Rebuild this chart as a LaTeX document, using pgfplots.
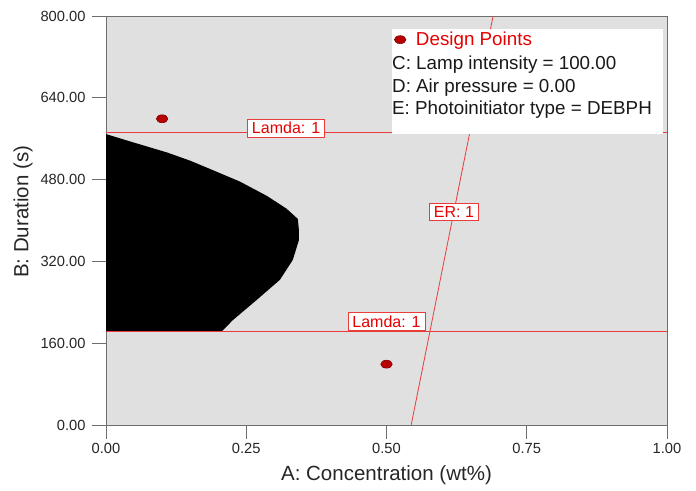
\documentclass[border=0pt]{standalone}
\usepackage{pgfplots}
\pgfplotsset{compat=1.18}
\usepackage{fontspec}
\setmainfont{Liberation Sans}
\definecolor{bggray}{RGB}{224,224,224}
\definecolor{linered}{RGB}{235,60,60}
\definecolor{txtred}{RGB}{230,0,0}
\definecolor{dptred}{RGB}{185,0,0}
\definecolor{axgray}{RGB}{110,110,110}
\begin{document}
\begin{tikzpicture}
\useasboundingbox (0,0) rectangle (696bp,491bp);
\begin{axis}[
  at={(106bp,66bp)}, anchor=south west,
  scale only axis, width=561bp, height=409bp,
  xmin=0, xmax=1, ymin=0, ymax=800,
  xtick={0,0.25,0.5,0.75,1},
  ytick={0,160,320,480,640,800},
  xtick pos=lower, ytick pos=left,
  tick align=outside,
  major tick length=14bp,
  tick style={axgray, line width=0.8bp},
  axis line style={axgray, line width=0.8bp},
  axis background/.style={fill=bggray},
  /pgf/number format/.cd, fixed, fixed zerofill, precision=2, assume math mode=true,
  /pgfplots/.cd,
  ticklabel style={font=\fontsize{14.7bp}{17bp}\selectfont, text=black!85},
  yticklabel style={xshift=-3bp},
  xticklabel style={yshift=-1bp},
  xlabel={A: Concentration (wt\%)},
  ylabel={B: Duration (s)},
  label style={font=\fontsize{20.5bp}{24bp}\selectfont, text=black!85},
  xlabel style={at={(axis description cs:0.5,-0.122)}, anchor=center},
  ylabel style={at={(axis description cs:-0.148,0.521)}, anchor=center},
  legend style={at={(axis description cs:0.5137,0.966)}, anchor=north west,
    draw=none, fill=none, font=\fontsize{18.8bp}{22bp}\selectfont, text=txtred,
    inner xsep=0pt, inner ysep=0pt,
    /tikz/every odd column/.append style={column sep=8bp}},
  legend cell align=left,
  clip=true,
]
% feasible (overlay) region
\addplot[fill=black, draw=none, forget plot] coordinates {
  (0,569) (0.048,553) (0.109,533) (0.150,517) (0.185,501) (0.239,476) (0.287,448)
  (0.322,423) (0.342,403) (0.344,380) (0.344,362) (0.333,323) (0.310,284)
  (0.269,245) (0.226,205) (0.207,184) (0,184)} -- cycle;
% constraint lines
\addplot[linered, line width=0.8bp, forget plot] coordinates {(0,573) (1,573)}
  node[pos=0.321, yshift=4bp, draw=linered, fill=white, text=txtred, inner xsep=4.5bp, inner ysep=3bp,
       font=\fontsize{16bp}{18bp}\selectfont] {Lamda: 1};
\addplot[linered, line width=0.8bp, forget plot] coordinates {(0,184) (1,184)}
  node[pos=0.50, anchor=south, draw=linered, fill=white, text=txtred, inner xsep=4.5bp, inner ysep=3bp,
       font=\fontsize{16bp}{18bp}\selectfont] {Lamda: 1};
\addplot[linered, line width=0.8bp, forget plot] coordinates {(0.544,0) (0.690,800)}
  node[pos=0.522, draw=linered, fill=white, text=txtred, inner xsep=4.5bp, inner ysep=3bp,
       font=\fontsize{16bp}{18bp}\selectfont] {ER: 1};
% legend box
\fill[white] (axis cs:0.5098,775) rectangle (axis cs:0.9929,569);
\node[anchor=base west, font=\fontsize{18.8bp}{22bp}\selectfont, text=black!90, inner sep=0pt]
  at (axis description cs:0.5098,0.868) {C: Lamp intensity = 100.00};
\node[anchor=base west, font=\fontsize{18.8bp}{22bp}\selectfont, text=black!90, inner sep=0pt]
  at (axis description cs:0.5098,0.813) {D: Air pressure = 0.00};
\node[anchor=base west, font=\fontsize{18.8bp}{22bp}\selectfont, text=black!90, inner sep=0pt]
  at (axis description cs:0.5098,0.758) {E: Photoinitiator type = DEBPH};
% design points
\addplot[only marks, mark=*, mark size=4bp,
  mark options={fill=dptred, draw=dptred!60!black, line width=0.5bp, xscale=1.45}]
  coordinates {(0.1,599) (0.5,119)};
\addlegendentry{Design Points}
\end{axis}
\end{tikzpicture}
\end{document}
